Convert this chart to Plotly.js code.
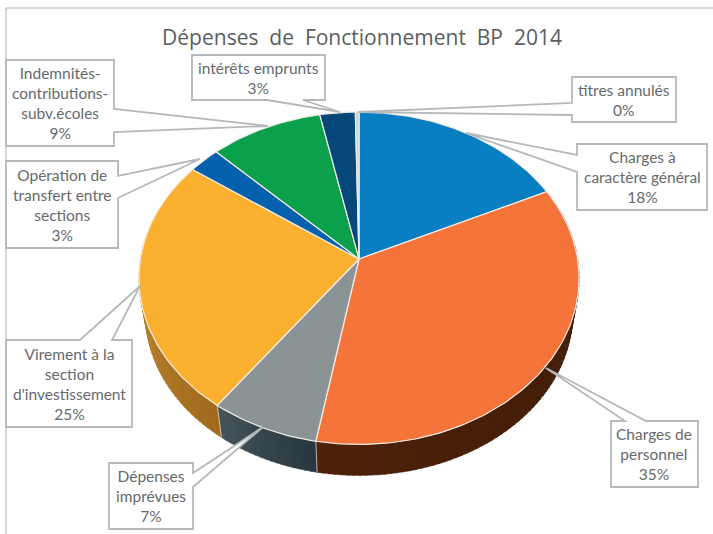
<!DOCTYPE html>
<html><head><meta charset="utf-8">
<script src="https://cdn.plot.ly/plotly-3.0.1.min.js"></script>
<style>html,body{margin:0;padding:0;background:#fff}#chart{width:713px;height:534px}</style>
</head><body><div id="chart"></div>
<script>
// Data, clockwise from 12 o'clock
const categories = ["Charges à caractère général","Charges de personnel","Dépenses imprévues","Virement à la section d'investissement","Opération de transfert entre sections","Indemnités-contributions-subv.écoles","intérêts emprunts","titres annulés"];
const values = [17.9,34.9,7.2,24.9,2.6,9.3,2.9,0.3];
const labelLines = [["Charges à","caractère général"],["Charges de","personnel"],["Dépenses","imprévues"],["Virement à la","section","d'investissement"],["Opération de","transfert entre","sections"],["Indemnités-","contributions-","subv.écoles"],["intérêts emprunts"],["titres annulés"]];
const topColors = ["#087fc2","#f4743a","#8c9397","#fbb02f","#0561ad","#0ba04b","#07487b","#c9d3d8"];
const sideFrom = [[4,60,100],[60,26,6],[38,54,60],[160,106,30],[4,50,90],[8,90,40],[4,40,70],[200,200,200]];
const sideTo   = [[4,60,100],[78,33,8],[68,84,90],[198,142,46],[4,50,90],[8,90,40],[4,40,70],[200,200,200]];
const title = "Dépenses  de  Fonctionnement  BP  2014";

// Callout layout (chart pixels): outline of each label box and its text centre
const callouts = [
 {c:[642,177], p:[[577,144],[707,144],[707,210],[577,210],[577,172],[466,133],[577,155]]},
 {c:[654,454], p:[[611,421],[625,421],[546,368],[646,421],[698,421],[698,487],[611,487]]},
 {c:[151,496], p:[[109,463],[193,463],[193,473],[263,427],[193,487],[193,529],[109,529]]},
 {c:[69,384],  p:[[6,340],[80,340],[140,286],[112,340],[132,340],[132,427],[6,427]]},
 {c:[62,205],  p:[[6,161],[118,161],[118,176],[200,159],[118,198],[118,248],[6,248]]},
 {c:[60,103],  p:[[6,60],[114,60],[114,109],[268,126],[114,132],[114,146],[6,146]]},
 {c:[258,78],  p:[[192,55],[325,55],[325,100],[303,100],[340,112],[267,100],[192,100]]},
 {c:[624,100], p:[[572,77],[676,77],[676,122],[572,122],[572,115],[358,112],[572,103]]}
];

// Perspective projection of the pie disc
const cx=359, apexY=259, R=218.6, S=164, K=0.1158, baseScale=0.97, baseDrop=36.5;
function proj(theta, bottom){
  const u=Math.sin(theta), v=-Math.cos(theta), w=1-K*v, s=bottom?baseScale:1, d=bottom?baseDrop:0;
  return [cx+s*R*u/w, apexY+d+s*S*v/w];
}
const total=values.reduce((a,b)=>a+b,0);
const traces=[];
const rgb=(a,b,t)=>`rgb(${a.map((x,i)=>Math.round(x+(b[i]-x)*t)).join(",")})`;
const STEP=Math.PI/120, SIDE_MIN=Math.PI*0.4, SIDE_MAX=Math.PI*1.6;

// Rim of the pie, behind the top face
let acc=0;
values.forEach((val,i)=>{
  const a0=Math.max(acc/total*2*Math.PI,SIDE_MIN), a1=Math.min((acc+val)/total*2*Math.PI,SIDE_MAX);
  acc+=val;
  if(a1<=a0) return;
  const n=Math.max(1,Math.ceil((a1-a0)/STEP));
  for(let k=0;k<n;k++){
    const t0=a0+(a1-a0)*k/n, t1=a0+(a1-a0)*(k+1)/n+0.004;
    const q=[proj(t0,false),proj(t1,false),proj(t1,true),proj(t0,true),proj(t0,false)];
    const col=rgb(sideFrom[i],sideTo[i],(k+0.5)/n);
    traces.push({type:"scatter",mode:"lines",x:q.map(p=>p[0]),y:q.map(p=>p[1]),fill:"toself",fillcolor:col,line:{color:col,width:0.5},hoverinfo:"skip",showlegend:false});
  }
});
// Seams on the rim between slices
acc=0;
values.forEach(val=>{
  acc+=val;
  const a=acc/total*2*Math.PI;
  if(a>SIDE_MIN+0.5 && a<SIDE_MAX-0.5){
    const q=[proj(a,false),proj(a,true)];
    traces.push({type:"scatter",mode:"lines",x:q.map(p=>p[0]),y:q.map(p=>p[1]),line:{color:"rgba(235,225,215,0.75)",width:1},hoverinfo:"skip",showlegend:false});
  }
});
// Top face
acc=0;
values.forEach((val,i)=>{
  const a0=acc/total*2*Math.PI, a1=(acc+val)/total*2*Math.PI;
  acc+=val;
  const n=Math.max(2,Math.ceil((a1-a0)/(Math.PI/180)));
  const xs=[cx], ys=[apexY];
  for(let k=0;k<=n;k++){const p=proj(a0+(a1-a0)*k/n,false); xs.push(p[0]); ys.push(p[1]);}
  xs.push(cx); ys.push(apexY);
  traces.push({type:"scatter",mode:"lines",name:categories[i],x:xs,y:ys,fill:"toself",fillcolor:topColors[i],line:{color:"#f3ece4",width:1.2},
    text:categories[i]+" "+Math.round(val/total*100)+"%",hoverinfo:"text",showlegend:false});
});

const boxLine={color:"#b5b9bc",width:1.8};
const shapes=[
 {type:"line",xref:"x",yref:"y",x0:6,y0:8,x1:713,y1:8,line:{color:"#c9cbcc",width:1.6},layer:"below"},
 {type:"line",xref:"x",yref:"y",x0:6,y0:8,x1:6,y1:534,line:{color:"#c9cbcc",width:1.6},layer:"below"}
];
callouts.forEach(o=>{
  shapes.push({type:"path",xref:"x",yref:"y",layer:"above",fillcolor:"#ffffff",line:boxLine,
    path:"M"+o.p.map(q=>q[0]+" "+q[1]).join(" L")+" Z"});
});
const annotations=categories.map((c,i)=>({
  xref:"x",yref:"y",x:callouts[i].c[0],y:callouts[i].c[1],xanchor:"center",yanchor:"middle",showarrow:false,align:"center",
  text:labelLines[i].concat([Math.round(values[i]/total*100)+"%"]).join("<br>"),
  font:{family:"Lato, 'Open Sans', sans-serif",size:15.5,color:"#666a6d"}
}));

Plotly.newPlot("chart",traces,{
  width:713,height:534,margin:{l:0,r:0,t:0,b:0},paper_bgcolor:"#fff",plot_bgcolor:"#fff",showlegend:false,
  title:{text:title.replace(/  /g,"\u00a0 "),x:362/713,xref:"paper",xanchor:"center",y:1-38/534,yref:"paper",yanchor:"middle",
    font:{family:"'Open Sans', 'Noto Sans', sans-serif",size:21,color:"#5a5e61"}},
  xaxis:{range:[0,713],visible:false,fixedrange:true},
  yaxis:{range:[534,0],visible:false,fixedrange:true},
  shapes,annotations
},{displayModeBar:false,staticPlot:false});
</script></body></html>
